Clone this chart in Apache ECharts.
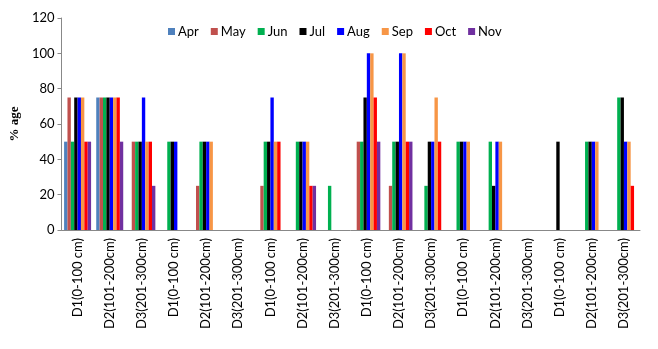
<!DOCTYPE html>
<html>
<head>
<meta charset="utf-8">
<script src="https://cdn.jsdelivr.net/npm/echarts@6/dist/echarts.min.js"></script>
<style>
    html, body { margin: 0; padding: 0; background: #fff; }
    #cn { width: 658px; height: 349px; }
</style>
</head>
<body>
<div id="cn"></div>
<script>
'use strict';

// depth classes, repeated for each site
const arrCat = [
    'D1(0-100 cm)', 'D2(101-200cm)', 'D3(201-300cm)',
    'D1(0-100 cm)', 'D2(101-200cm)', 'D3(201-300cm)',
    'D1(0-100 cm)', 'D2(101-200cm)', 'D3(201-300cm)',
    'D1(0-100 cm)', 'D2(101-200cm)', 'D3(201-300cm)',
    'D1(0-100 cm)', 'D2(101-200cm)', 'D3(201-300cm)',
    'D1(0-100 cm)', 'D2(101-200cm)', 'D3(201-300cm)'
];

const arrMonth = ['Apr', 'May', 'Jun', 'Jul', 'Aug', 'Sep', 'Oct', 'Nov'];
const arrColor = ['#4F81BD', '#C0504D', '#00B050', '#000000', '#0000FF', '#F79646', '#FF0000', '#7030A0'];

const arrApr = [50, 75, 0, 0, 0, 0, 0, 0, 0, 0, 0, 0, 0, 0, 0, 0, 0, 0];
const arrMay = [75, 75, 50, 0, 25, 0, 25, 0, 0, 50, 25, 0, 0, 0, 0, 0, 0, 0];
const arrJun = [50, 75, 50, 50, 50, 0, 50, 50, 25, 50, 50, 25, 50, 50, 0, 0, 50, 75];
const arrJul = [75, 75, 50, 50, 50, 0, 50, 50, 0, 75, 50, 50, 50, 25, 0, 50, 50, 75];
const arrAug = [75, 75, 75, 50, 50, 0, 75, 50, 0, 100, 100, 50, 50, 50, 0, 0, 50, 50];
const arrSep = [75, 75, 50, 0, 50, 0, 50, 50, 0, 100, 100, 75, 50, 50, 0, 0, 50, 50];
const arrOct = [50, 75, 50, 0, 0, 0, 50, 25, 0, 75, 50, 50, 0, 0, 0, 0, 0, 25];
const arrNov = [50, 50, 25, 0, 0, 0, 0, 25, 0, 50, 50, 0, 0, 0, 0, 0, 0, 0];

const arrData = [arrApr, arrMay, arrJun, arrJul, arrAug, arrSep, arrOct, arrNov];

const arrYTick = [0, 20, 40, 60, 80, 100, 120];

const FONT = 'Lato';
const chart = echarts.init(document.getElementById('cn'), null, { renderer: 'canvas' });

const option = {
    animation: false,
    color: arrColor,
    legend: {
        top: 20,
        left: 163,
        itemWidth: 7,
        itemHeight: 7,
        itemGap: 12,
        icon: 'rect',
        textStyle: { fontFamily: FONT, fontSize: 13, color: '#000', padding: [0, 0, 0, -2] },
        data: arrMonth
    },
    grid: {
        left: 58,
        right: 18,
        top: 18,
        bottom: 119
    },
    xAxis: {
        type: 'category',
        data: arrCat,
        axisLine: { lineStyle: { color: '#888', width: 1 } },
        axisTick: { length: 110, lineStyle: { color: '#999' } },
        axisLabel: {
            rotate: 90,
            interval: 0,
            margin: 8,
            fontFamily: FONT,
            fontSize: 13,
            color: '#000'
        }
    },
    yAxis: {
        type: 'value',
        min: arrYTick[0],
        max: arrYTick[arrYTick.length - 1],
        interval: 20,
        name: '% age',
        nameLocation: 'middle',
        nameGap: 38,
        nameRotate: 90,
        nameTextStyle: { fontFamily: 'Liberation Serif', fontWeight: 'bold', fontSize: 13, color: '#000' },
        splitLine: { show: false },
        axisLine: { show: true, lineStyle: { color: '#888' } },
        axisTick: { show: true, length: 4, lineStyle: { color: '#888' } },
        axisLabel: { fontFamily: FONT, fontSize: 13, color: '#000', margin: 7 }
    },
    series: arrMonth.map((m, i) => ({
        name: m,
        type: 'bar',
        data: arrData[i],
        barGap: '0%',
        barCategoryGap: '16%'
    }))
};

chart.setOption(option);
</script>
</body>
</html>
